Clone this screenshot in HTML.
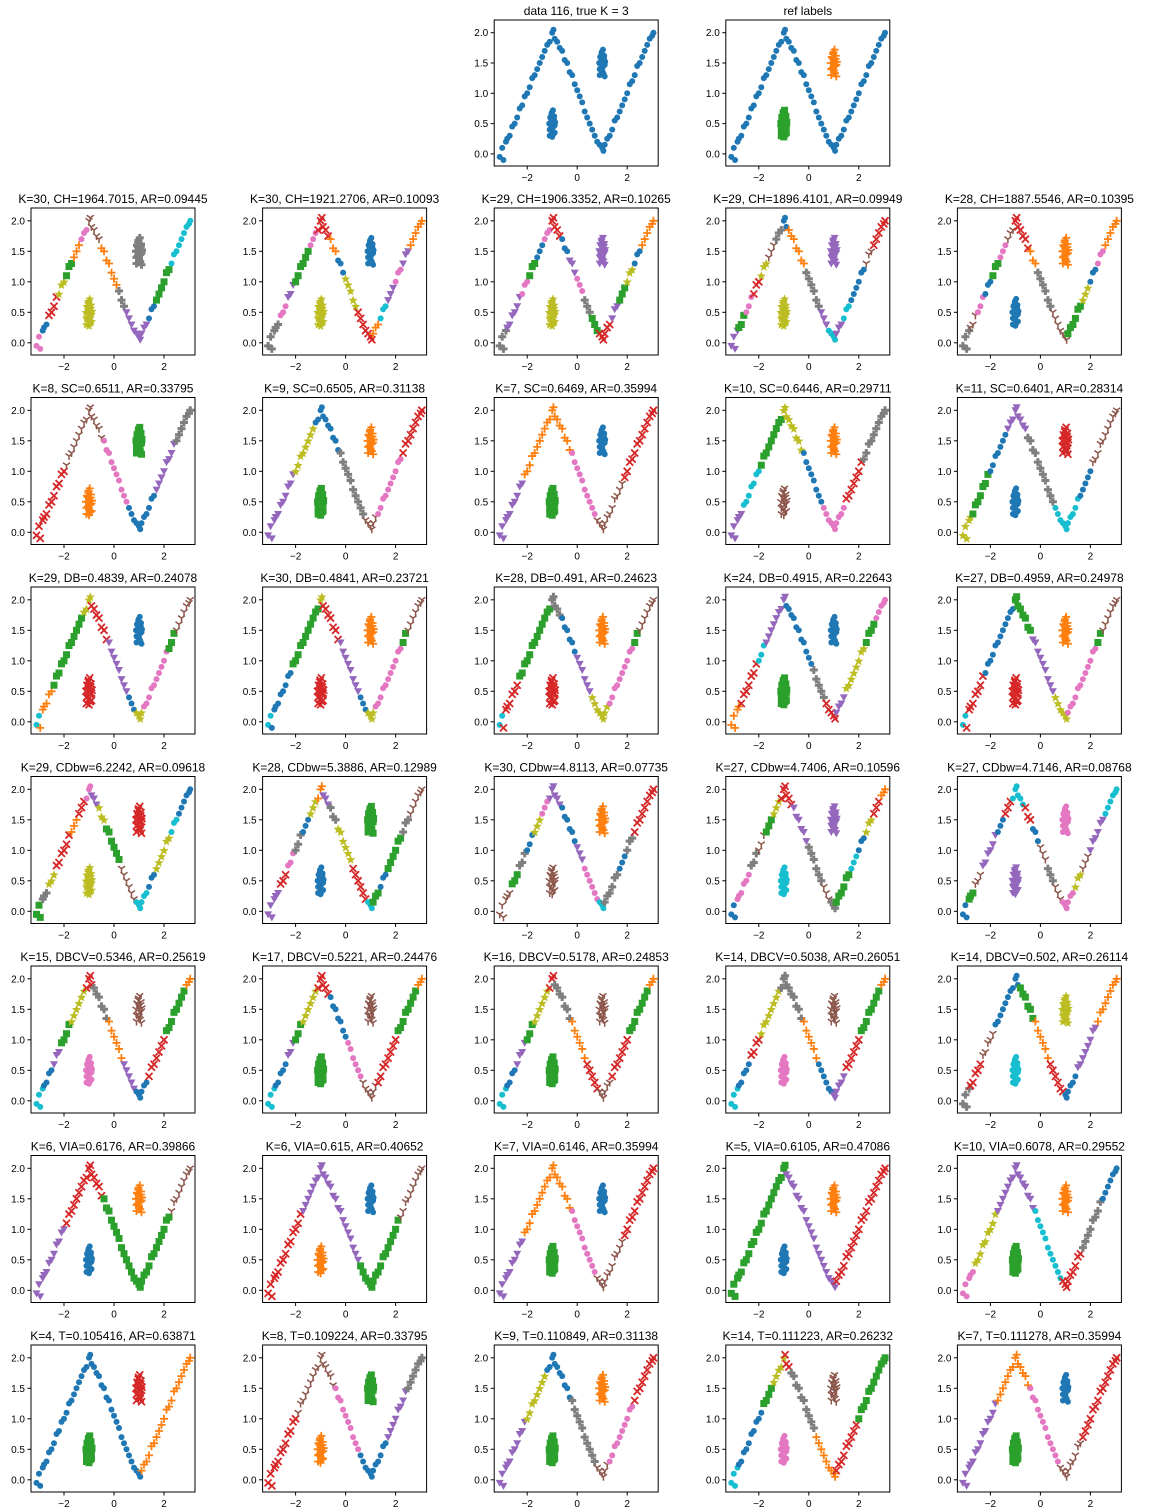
<!DOCTYPE html>
<html><head><meta charset="utf-8">
<style>
body{margin:0;background:#fff;}
svg{display:block;font-family:"Liberation Sans","DejaVu Sans",sans-serif;}
</style></head>
<body>
<svg id="fig" width="1152" height="1512" viewBox="0 0 1152 1512" xmlns="http://www.w3.org/2000/svg"></svg>
<script>
// ---- base data: W-shaped path (ordered) and two blobs ----
const pathX = [-3.1,-3.0,-2.95,-2.85,-2.8,-2.7,-2.6,-2.5,-2.4,-2.3,-2.2,-2.1,-2.0,-1.9,-1.8,-1.7,-1.6,-1.5,-1.4,-1.3,-1.2,-1.1,-1.0,-0.95,
 -0.9,-0.8,-0.7,-0.6,-0.5,-0.4,-0.3,-0.2,-0.1,0.0,0.1,0.2,0.3,0.4,0.5,0.6,0.7,0.8,0.9,1.0,1.05,
 1.1,1.2,1.3,1.4,1.5,1.6,1.7,1.8,1.9,2.0,2.1,2.2,2.3,2.4,2.5,2.6,2.7,2.8,2.9,3.0,3.05];
const pathY = [-0.05,0.1,-0.1,0.2,0.25,0.3,0.45,0.5,0.6,0.75,0.8,0.95,1.0,1.1,1.25,1.3,1.4,1.5,1.6,1.7,1.8,1.85,2.0,2.05,
 1.9,1.85,1.75,1.7,1.55,1.5,1.35,1.3,1.15,1.05,0.95,0.85,0.7,0.6,0.5,0.4,0.3,0.2,0.15,0.1,0.05,
 0.15,0.25,0.3,0.4,0.55,0.6,0.7,0.8,0.9,1.0,1.15,1.2,1.3,1.45,1.5,1.6,1.7,1.8,1.9,1.95,2.0];
const blobAX = [-1.1,-1.0,-0.9,-1.05,-0.95,-1.12,-0.88,-1.0,-1.08,-0.92,-1.02,-0.97,-1.1,-0.9,-1.0,-1.05,-0.95,-0.98,-1.03,-0.93];
const blobAY = [0.3,0.28,0.35,0.42,0.45,0.5,0.52,0.55,0.6,0.62,0.68,0.72,0.4,0.47,0.38,0.58,0.33,0.5,0.65,0.57];
const blobBX = [0.9,1.0,1.1,0.95,1.05,0.88,1.12,1.0,0.92,1.08,0.98,1.03,0.9,1.1,1.0,0.95,1.05,1.02,0.97,1.07];
const blobBY = [1.3,1.35,1.28,1.42,1.45,1.5,1.52,1.55,1.6,1.62,1.68,1.72,1.4,1.47,1.38,1.58,1.33,1.5,1.65,1.57];
const xTicks = [-2,0,2];
const xTickLabels = ["−2","0","2"];
const yTicks = [0,0.5,1.0,1.5,2.0];
const yTickLabels = ["0.0","0.5","1.0","1.5","2.0"];
// ---- subplot titles & cluster labelings (path segment end:colour | blobA colour | blobB colour) ----
const titles = [
 "K=30, CH=1964.7015, AR=0.09445","K=30, CH=1921.2706, AR=0.10093","K=29, CH=1906.3352, AR=0.10265","K=29, CH=1896.4101, AR=0.09949","K=28, CH=1887.5546, AR=0.10395",
 "K=8, SC=0.6511, AR=0.33795","K=9, SC=0.6505, AR=0.31138","K=7, SC=0.6469, AR=0.35994","K=10, SC=0.6446, AR=0.29711","K=11, SC=0.6401, AR=0.28314",
 "K=29, DB=0.4839, AR=0.24078","K=30, DB=0.4841, AR=0.23721","K=28, DB=0.491, AR=0.24623","K=24, DB=0.4915, AR=0.22643","K=27, DB=0.4959, AR=0.24978",
 "K=29, CDbw=6.2242, AR=0.09618","K=28, CDbw=5.3886, AR=0.12989","K=30, CDbw=4.8113, AR=0.07735","K=27, CDbw=4.7406, AR=0.10596","K=27, CDbw=4.7146, AR=0.08768",
 "K=15, DBCV=0.5346, AR=0.25619","K=17, DBCV=0.5221, AR=0.24476","K=16, DBCV=0.5178, AR=0.24853","K=14, DBCV=0.5038, AR=0.26051","K=14, DBCV=0.502, AR=0.26114",
 "K=6, VIA=0.6176, AR=0.39866","K=6, VIA=0.615, AR=0.40652","K=7, VIA=0.6146, AR=0.35994","K=5, VIA=0.6105, AR=0.47086","K=10, VIA=0.6078, AR=0.29552",
 "K=4, T=0.105416, AR=0.63871","K=8, T=0.109224, AR=0.33795","K=9, T=0.110849, AR=0.31138","K=14, T=0.111223, AR=0.26232","K=7, T=0.111278, AR=0.35994"];
const labelings = [
 "2:6,5:0,9:3,12:8,15:2,18:1,21:6,23:5,27:5,30:1,34:1,37:7,40:4,44:4,47:4,50:0,53:2,56:2,59:9,62:9,65:9|8|7",
 "2:7,5:7,8:6,11:4,14:2,17:2,20:6,23:3,26:3,29:1,32:0,34:8,37:8,40:3,44:3,47:1,50:9,53:4,56:6,59:4,62:1,65:1|8|0",
 "3:7,6:4,9:4,12:6,15:2,18:0,21:6,23:3,26:3,29:0,32:4,35:6,38:7,41:2,44:3,47:3,50:4,53:2,56:8,59:0,62:1,65:1|8|4",
 "3:4,6:2,9:6,12:3,15:8,18:5,21:7,24:0,28:1,31:1,34:7,37:7,40:4,44:9,47:4,50:9,53:0,56:0,59:5,62:3,65:3|8|4",
 "3:7,6:5,9:6,12:0,15:2,18:6,21:5,24:3,28:3,31:1,34:7,37:7,40:5,44:5,47:2,50:2,53:8,56:0,59:6,62:1,65:1|0|1",
 "12:3,28:5,38:6,50:0,58:4,65:7|1|2",
 "11:4,19:8,30:0,40:7,46:5,56:6,65:3|2|1",
 "10:4,30:1,40:6,52:5,65:3|2|0",
 "5:4,12:9,21:2,30:8,38:0,48:6,55:3,65:7|5|1",
 "4:8,11:2,18:0,27:4,38:7,49:9,54:0,65:5|0|3",
 "1:9,7:1,19:2,23:8,30:3,38:4,41:0,45:8,55:6,58:2,65:5|3|0",
 "1:9,10:0,21:2,23:8,30:3,38:4,41:0,45:8,56:6,58:2,65:5|3|1",
 "1:9,8:3,21:2,26:7,32:0,38:4,46:8,56:6,58:2,65:5|3|1",
 "4:1,11:3,14:9,23:4,34:0,39:7,44:3,48:4,56:8,60:2,65:6|2|0",
 "1:9,9:3,21:0,29:2,38:4,44:8,56:6,58:2,65:5|3|1",
 "2:2,5:7,8:8,11:3,14:3,17:1,20:3,23:6,26:4,29:8,32:2,35:2,38:5,41:5,44:9,47:9,50:0,53:8,56:8,59:9,62:0,65:0|8|3",
 "2:4,5:4,8:3,11:6,14:7,17:0,20:8,23:1,26:4,29:7,32:8,35:8,38:3,41:3,44:9,47:2,50:0,53:2,56:2,59:7,62:5,65:5|0|2",
 "2:5,5:5,8:2,11:7,14:0,17:8,20:6,23:4,26:4,29:0,32:0,35:4,38:6,41:6,44:9,47:7,50:7,53:0,56:7,59:3,62:3,65:3|5|1",
 "2:0,5:6,8:6,11:7,14:5,17:2,20:8,23:3,26:3,29:4,32:4,35:7,38:7,41:5,44:7,47:2,50:2,53:9,56:0,59:8,62:3,65:1|9|4",
 "2:0,5:2,8:5,11:4,14:4,17:0,20:3,23:9,26:9,29:3,32:0,35:5,38:7,41:5,44:6,47:6,50:8,53:5,56:4,59:4,62:9,65:9|4|6",
 "3:9,7:0,10:4,14:2,20:8,24:3,30:7,36:1,41:4,47:0,54:3,62:2,65:1|6|5",
 "3:9,8:0,11:4,14:2,20:8,26:3,33:0,39:6,46:5,54:3,62:2,65:1|2|5",
 "3:9,7:0,11:4,14:2,20:8,23:3,30:7,36:1,41:3,47:5,54:3,62:2,65:1|2|5",
 "3:9,8:0,12:3,20:8,30:7,36:1,42:0,48:4,54:3,62:2,65:1|6|5",
 "3:7,8:3,13:5,19:0,24:0,30:2,36:1,42:3,48:0,56:4,65:1|9|8",
 "12:4,28:3,56:2,65:5|0|1",
 "14:3,38:4,55:2,65:5|1|0",
 "10:4,30:1,40:6,52:5,65:3|2|0",
 "23:2,44:4,65:3|0|1",
 "5:6,14:8,30:4,41:9,50:3,58:7,65:0|2|1",
 "44:0,65:1|2|3",
 "12:3,28:5,38:6,50:0,58:4,65:7|1|2",
 "11:4,19:8,30:0,40:7,46:5,56:6,65:3|2|1",
 "3:9,13:0,17:2,22:8,25:3,35:7,44:1,53:3,65:2|6|5",
 "14:4,28:1,40:6,50:5,65:3|2|0"];

const COLORS=["#1f77b4","#ff7f0e","#2ca02c","#d62728","#9467bd","#8c564b","#e377c2","#7f7f7f","#bcbd22","#17becf"];
const MARKERS=["o","+","s","x","v","1","o","P","*","o"];
const NS="http://www.w3.org/2000/svg";
const fig=document.getElementById('fig');
function el(tag,attrs,parent){const e=document.createElementNS(NS,tag);for(const k in attrs)e.setAttribute(k,attrs[k]);(parent||fig).appendChild(e);return e;}

function marker(g,m,cx,cy,col){
  let e;
  if(m==="o"){e=el('circle',{cx:cx,cy:cy,r:3,fill:col},g);}
  else if(m==="s"){e=el('rect',{x:cx-3.5,y:cy-3.5,width:7,height:7,fill:col},g);}
  else if(m==="v"){e=el('polygon',{points:`${cx-4},${cy-3} ${cx+4},${cy-3} ${cx},${cy+4}`,fill:col},g);}
  else if(m==="x"){e=el('path',{d:`M${cx-3.5},${cy-3.5}L${cx+3.5},${cy+3.5}M${cx+3.5},${cy-3.5}L${cx-3.5},${cy+3.5}`,stroke:col,'stroke-width':1.8},g);}
  else if(m==="+"){e=el('path',{d:`M${cx-4},${cy}L${cx+4},${cy}M${cx},${cy-4}L${cx},${cy+4}`,stroke:col,'stroke-width':1.8},g);}
  else if(m==="P"){e=el('path',{d:`M${cx-4},${cy}L${cx+4},${cy}M${cx},${cy-4}L${cx},${cy+4}`,stroke:col,'stroke-width':3},g);}
  else if(m==="1"){e=el('path',{d:`M${cx},${cy}L${cx},${cy+4}M${cx},${cy}L${cx-3.5},${cy-2.5}M${cx},${cy}L${cx+3.5},${cy-2.5}`,stroke:col,'stroke-width':1.5},g);}
  else {e=el('polygon',{points:`${cx},${cy-4.5} ${cx+1.3},${cy-1.3} ${cx+4.5},${cy-1.2} ${cx+2},${cy+1.2} ${cx+2.8},${cy+4.3} ${cx},${cy+2.5} ${cx-2.8},${cy+4.3} ${cx-2},${cy+1.2} ${cx-4.5},${cy-1.2} ${cx-1.3},${cy-1.3}`,fill:col},g);}
  
  
}

function panel(left,top,w,h,title,pathCols,aCol,bCol,name){
  const g=el('g',{});
  
  
  const xmin=-3.32,xmax=3.24,ymin=-0.2,ymax=2.21;
  const sx=v=>left+(v-xmin)/(xmax-xmin)*w;
  const sy=v=>top+h-(v-ymin)/(ymax-ymin)*h;
  const t=el('text',{x:left+w/2,y:top-5,'text-anchor':'middle','font-size':12,fill:'#000'},g);
  t.textContent=title;
  
  
  const pts=el('g',{},g);
  
  
  for(let i=0;i<pathX.length;i++){const c=pathCols[i];marker(pts,MARKERS[c],sx(pathX[i]),sy(pathY[i]),COLORS[c]);}
  for(let i=0;i<blobAX.length;i++)marker(pts,MARKERS[aCol],sx(blobAX[i]),sy(blobAY[i]),COLORS[aCol]);
  for(let i=0;i<blobBX.length;i++)marker(pts,MARKERS[bCol],sx(blobBX[i]),sy(blobBY[i]),COLORS[bCol]);
  const fr=el('rect',{x:left,y:top,width:w,height:h,fill:'none',stroke:'#000','stroke-width':1},g);
  
  
  xTicks.forEach((v,i)=>{
    const x=sx(v);
    el('line',{x1:x,y1:top+h,x2:x,y2:top+h+3.5,stroke:'#000'},g);
    const tl=el('text',{x:x,y:top+h+15,'text-anchor':'middle','font-size':10,fill:'#000'},g);
    tl.textContent=xTickLabels[i];
    
    
  });
  yTicks.forEach((v,i)=>{
    const y=sy(v);
    el('line',{x1:left-3.5,y1:y,x2:left,y2:y,stroke:'#000'},g);
    const tl=el('text',{x:left-6,y:y+3.5,'text-anchor':'end','font-size':10,fill:'#000'},g);
    tl.textContent=yTickLabels[i];
    
    
  });
}

function parseLabels(spec){
  const [segs,a,b]=spec.split('|');
  const cols=[];let start=0;
  segs.split(',').forEach(s=>{const [end,c]=s.split(':').map(Number);for(let i=start;i<=end;i++)cols[i]=c;start=end+1;});
  return {cols,a:+a,b:+b};
}
const colX=c=>31+c*231.6;
const W=164;
// top row
panel(colX(2),20,W,146,"data 116, true K = 3",pathX.map(()=>0),0,0,"data-plot");
panel(colX(3),20,W,146,"ref labels",pathX.map(()=>0),2,1,"ref-labels-plot");
for(let k=0;k<titles.length;k++){
  const r=Math.floor(k/5),c=k%5;
  const L=parseLabels(labelings[k]);
  panel(colX(c),208+r*189.5,W,147,titles[k],L.cols,L.a,L.b,"subplot-r"+(r+1)+"-c"+(c+1));
}
</script>
</body></html>
